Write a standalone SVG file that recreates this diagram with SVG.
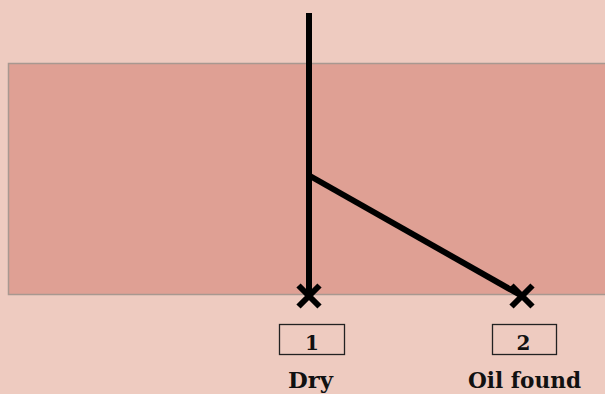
<svg xmlns="http://www.w3.org/2000/svg" width="605" height="394" viewBox="0 0 605 394">
<style>
.ln{stroke:#000;stroke-width:6;fill:none}
.x{stroke:#000;stroke-width:6;fill:none}
.box{fill:none;stroke:#222;stroke-width:1.3}
.t{font-family:"DejaVu Serif","Liberation Serif",serif;font-weight:bold;font-size:22px;fill:#111;text-anchor:middle}
.n{font-size:20px}
</style>
<rect width="605" height="394" fill="#EECBC0"/>
<rect id="band" x="8.5" y="63.5" width="600" height="231" fill="#DFA094" stroke="#A89890" stroke-width="1.5"/>
<g id="connectors">
<path class="ln" d="M309 13 V296"/>
<path class="ln" d="M310 176 L522 296"/>
</g>
<g id="end1">
<path class="x" d="M298.5 285.5 L319.5 306.5 M319.5 285.5 L298.5 306.5"/>
<rect class="box" x="279.5" y="324.5" width="65" height="30"/>
<text class="t n" x="312" y="349.5">1</text>
<text class="t" x="310.5" y="387.5" textLength="45" lengthAdjust="spacingAndGlyphs">Dry</text>
</g>
<g id="end2">
<path class="x" d="M511.5 285.5 L532.5 306.5 M532.5 285.5 L511.5 306.5"/>
<rect class="box" x="492.5" y="324.5" width="64" height="30"/>
<text class="t n" x="523.5" y="349.5">2</text>
<text class="t" x="524.5" y="387.5" textLength="113" lengthAdjust="spacingAndGlyphs">Oil found</text>
</g>
</svg>
